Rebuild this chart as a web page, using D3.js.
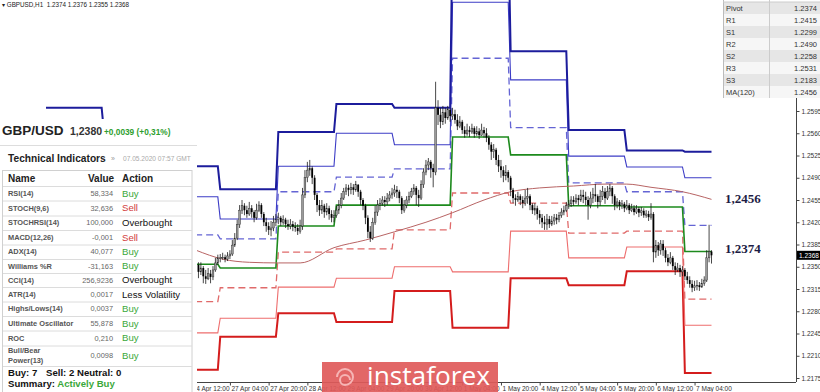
<!DOCTYPE html>
<html><head><meta charset="utf-8">
<script src="https://cdn.jsdelivr.net/npm/d3@7"></script>
<style>
body{margin:0;background:#fff;}
svg{display:block;font-family:"Liberation Sans",Arial,sans-serif;}
</style>
</head><body>
<svg id="c" width="820" height="392"></svg>
<script>
// ---------------- DATA ----------------
const chartHeader = "GBPUSD,H1  1.2374 1.2376 1.2355 1.2368";
// daily pivot levels, one value per trading day (22 Apr ... 7 May)
const dayNames = ["22 Apr","23 Apr","24 Apr","27 Apr","28 Apr","29 Apr","30 Apr","1 May","4 May","5 May","6 May","7 May"];
const levelR3 = [1.2600,1.2560,1.2508,1.2472,1.2562,1.2606,1.2600,1.2890,1.2689,1.2565,1.2533,1.2531];
const levelR2 = [null,null,1.2460,1.2425,1.2508,1.2560,1.2542,1.2766,1.2644,1.2524,1.2507,1.2490];
const levelR1 = [null,null,1.2400,1.2394,1.2468,1.2491,1.2504,1.2678,1.2569,1.2482,1.2468,1.2415];
const levelP  = [null,null,1.2354,1.2348,1.2414,1.2447,1.2447,1.2554,1.2526,1.2446,1.2444,1.2374];
const levelS1 = [null,null,1.2295,1.2317,1.2373,1.2378,1.2408,1.2466,1.2450,1.2403,1.2406,1.2299];
const levelS2 = [null,null,1.2246,1.2269,1.2318,1.2332,1.2350,1.2342,1.2406,1.2364,1.2381,1.2258];
const levelS3 = [null,null,1.2188,1.2240,1.2277,1.2263,1.2312,1.2254,1.2332,1.2321,1.2343,1.2183];

// H1 candles, hour index counted in trading hours from 22 Apr 00:00
const firstHour = 62;
const firstOpen = 1.2357;
const closes = [
 1.2353,1.2342,1.2348,1.2335,1.2331,1.2339,1.2334,1.2345,1.2356,1.2364,
 1.2364,1.2365,1.2362,1.2367,1.2370,1.2384,1.2395,1.2416,1.2439,1.2446,1.2439,1.2433,1.2442,1.2436,1.2427,1.2439,1.2447,1.2433,1.2420,1.2414,1.2408,1.2411,1.2420,1.2424,
 1.2427,1.2420,1.2424,1.2417,1.2414,1.2417,1.2413,1.2411,1.2406,1.2414,1.2463,1.2490,1.2502,1.2505,1.2490,1.2463,1.2447,1.2439,1.2446,1.2436,1.2442,1.2433,1.2427,1.2431,
 1.2439,1.2447,1.2458,1.2468,1.2474,1.2471,1.2475,1.2471,1.2479,1.2468,1.2455,1.2446,1.2427,1.2405,1.2395,1.2420,1.2436,1.2447,1.2450,1.2455,1.2452,1.2458,1.2463,1.2466,
 1.2471,1.2468,1.2458,1.2439,1.2447,1.2455,1.2461,1.2468,1.2474,1.2463,1.2458,1.2479,1.2499,1.2510,1.2515,1.2505,1.2499,1.2600,1.2589,1.2578,1.2593,1.2584,1.2597,1.2587,
 1.2590,1.2581,1.2571,1.2578,1.2565,1.2559,1.2565,1.2562,1.2568,1.2559,1.2563,1.2557,1.2565,1.2560,1.2553,1.2542,1.2531,1.2534,1.2518,1.2508,1.2502,1.2493,1.2499,1.2490,
 1.2471,1.2458,1.2455,1.2461,1.2455,1.2450,1.2458,1.2461,1.2447,1.2439,1.2442,1.2433,1.2427,1.2420,1.2417,1.2425,1.2417,1.2422,1.2427,1.2424,1.2431,1.2436,1.2439,1.2446,
 1.2449,1.2455,1.2452,1.2458,1.2455,1.2463,1.2460,1.2455,1.2447,1.2458,1.2464,1.2461,1.2452,1.2461,1.2468,1.2458,1.2468,1.2474,1.2461,1.2447,1.2452,1.2446,1.2449,1.2442,
 1.2447,1.2439,1.2442,1.2436,1.2441,1.2435,1.2438,1.2431,1.2433,1.2428,1.2433,1.2373,1.2384,1.2376,1.2386,1.2376,1.2364,1.2357,1.2364,1.2351,1.2345,1.2348,1.2342,1.2345,
 1.2335,1.2329,1.2323,1.2317,1.2320,1.2321,1.2318,1.2324,1.2329,1.2364,1.2374,1.2368];
const highs = [
 1.2364,1.2357,1.2357,1.2351,1.2345,1.2348,1.2345,1.2351,1.2364,1.2369,
 1.2370,1.2372,1.2369,1.2373,1.2376,1.2392,1.2403,1.2424,1.2447,1.2455,1.2450,1.2446,1.2452,1.2447,1.2439,1.2449,1.2453,1.2450,1.2436,1.2427,1.2420,1.2422,1.2430,1.2433,
 1.2435,1.2430,1.2431,1.2427,1.2424,1.2425,1.2422,1.2420,1.2417,1.2424,1.2474,1.2502,1.2515,1.2518,1.2508,1.2494,1.2466,1.2455,1.2455,1.2449,1.2450,1.2446,1.2439,1.2439,
 1.2446,1.2455,1.2466,1.2474,1.2480,1.2479,1.2482,1.2480,1.2485,1.2480,1.2471,1.2458,1.2449,1.2431,1.2414,1.2427,1.2446,1.2455,1.2458,1.2461,1.2461,1.2466,1.2469,1.2474,
 1.2479,1.2477,1.2471,1.2461,1.2455,1.2461,1.2468,1.2474,1.2480,1.2477,1.2471,1.2486,1.2505,1.2518,1.2521,1.2518,1.2512,1.2641,1.2612,1.2600,1.2603,1.2600,1.2603,1.2600,
 1.2600,1.2597,1.2590,1.2587,1.2581,1.2571,1.2575,1.2571,1.2575,1.2571,1.2571,1.2568,1.2575,1.2570,1.2568,1.2557,1.2546,1.2543,1.2537,1.2526,1.2518,1.2508,1.2510,1.2502,
 1.2493,1.2474,1.2464,1.2468,1.2464,1.2461,1.2471,1.2474,1.2464,1.2450,1.2450,1.2446,1.2439,1.2433,1.2430,1.2433,1.2430,1.2430,1.2433,1.2433,1.2436,1.2442,1.2446,1.2452,
 1.2455,1.2461,1.2461,1.2464,1.2463,1.2471,1.2471,1.2468,1.2461,1.2468,1.2474,1.2480,1.2464,1.2471,1.2477,1.2474,1.2477,1.2480,1.2477,1.2464,1.2458,1.2455,1.2455,1.2452,
 1.2455,1.2450,1.2449,1.2447,1.2447,1.2444,1.2444,1.2442,1.2439,1.2438,1.2450,1.2436,1.2392,1.2389,1.2392,1.2392,1.2380,1.2370,1.2373,1.2367,1.2357,1.2356,1.2353,1.2351,
 1.2348,1.2342,1.2335,1.2329,1.2328,1.2329,1.2326,1.2331,1.2335,1.2376,1.2416,1.2376];
const lows = [
 1.2345,1.2332,1.2337,1.2324,1.2323,1.2329,1.2324,1.2329,1.2342,1.2353,
 1.2357,1.2361,1.2357,1.2359,1.2362,1.2367,1.2381,1.2392,1.2411,1.2433,1.2431,1.2427,1.2430,1.2427,1.2420,1.2424,1.2436,1.2427,1.2414,1.2405,1.2400,1.2398,1.2406,1.2414,
 1.2417,1.2414,1.2416,1.2411,1.2408,1.2409,1.2406,1.2405,1.2400,1.2402,1.2408,1.2458,1.2483,1.2493,1.2480,1.2455,1.2436,1.2430,1.2433,1.2427,1.2431,1.2424,1.2420,1.2420,
 1.2427,1.2433,1.2442,1.2455,1.2463,1.2461,1.2464,1.2463,1.2468,1.2460,1.2447,1.2439,1.2417,1.2395,1.2389,1.2392,1.2416,1.2430,1.2439,1.2446,1.2444,1.2447,1.2453,1.2457,
 1.2460,1.2458,1.2450,1.2433,1.2435,1.2442,1.2450,1.2458,1.2463,1.2447,1.2444,1.2455,1.2474,1.2494,1.2502,1.2490,1.2475,1.2494,1.2573,1.2568,1.2573,1.2575,1.2581,1.2578,
 1.2581,1.2575,1.2565,1.2568,1.2559,1.2553,1.2556,1.2554,1.2559,1.2553,1.2556,1.2551,1.2556,1.2553,1.2546,1.2534,1.2518,1.2521,1.2510,1.2499,1.2490,1.2483,1.2486,1.2483,
 1.2461,1.2450,1.2446,1.2452,1.2447,1.2442,1.2446,1.2449,1.2439,1.2433,1.2431,1.2424,1.2417,1.2411,1.2408,1.2408,1.2411,1.2414,1.2416,1.2417,1.2420,1.2427,1.2431,1.2436,
 1.2441,1.2444,1.2446,1.2449,1.2447,1.2452,1.2450,1.2447,1.2424,1.2442,1.2450,1.2452,1.2442,1.2446,1.2455,1.2449,1.2455,1.2461,1.2449,1.2439,1.2442,1.2439,1.2441,1.2436,
 1.2439,1.2433,1.2436,1.2431,1.2433,1.2428,1.2430,1.2427,1.2427,1.2422,1.2424,1.2357,1.2364,1.2367,1.2369,1.2367,1.2357,1.2351,1.2354,1.2345,1.2337,1.2342,1.2334,1.2335,
 1.2329,1.2323,1.2317,1.2310,1.2312,1.2313,1.2312,1.2317,1.2320,1.2326,1.2357,1.2355];

// MA(120) read at sample hours
const maHours  = [62,73,84,96,105,119,132,144,157,168,181,192,204,218,231,240,250,263,275];
const maValues = [1.2376,1.2362,1.2357,1.2356,1.2356,1.2380,1.2392,1.2405,1.2420,1.2435,1.2455,1.2468,1.2474,1.2477,1.2480,1.2480,1.2475,1.2468,1.2456];

const timeTickHours  = [60,76,92,108,124,140,156,172,188,204,220,236,252,268];
const timeTickLabels = ["24 Apr 12:00","27 Apr 04:00","27 Apr 20:00","28 Apr 12:00","29 Apr 04:00","29 Apr 20:00","30 Apr 12:00","1 May 04:00","1 May 20:00","4 May 12:00","5 May 04:00","5 May 20:00","6 May 12:00","7 May 04:00"];
const priceTicks = [1.2175,1.2210,1.2245,1.2280,1.2315,1.2350,1.2385,1.2420,1.2455,1.2490,1.2525,1.2560,1.2595];
const lastPrice = 1.2368;
const maLast = 1.2456;
const pivotLast = 1.2374;

const pivotTableNames  = ["Pivot","R1","S1","R2","S2","R3","S3","MA(120)"];
const pivotTableValues = ["1.2374","1.2415","1.2299","1.2490","1.2258","1.2531","1.2183","1.2456"];

const indNames   = ["RSI(14)","STOCH(9,6)","STOCHRSI(14)","MACD(12,26)","ADX(14)","Williams %R","CCI(14)","ATR(14)","Highs/Lows(14)","Ultimate Oscillator","ROC","Bull/Bear|Power(13)"];
const indValues  = ["58,334","32,636","100,000","-0,001","40,077","-31,163","256,9236","0,0017","0,0037","55,878","0,210","0,0098"];
const indActions = ["Buy","Sell","Overbought","Sell","Buy","Buy","Overbought","Less Volatility","Buy","Buy","Buy","Buy"];

// ---------------- DRAW ----------------
const svg = d3.select("#c");
const W = 820, H = 392, axisX = 796, axisY = 382;
const x = d3.scaleLinear().domain([0, 275]).range([46, 46 + 275 * 2.42]);
const y = d3.scaleLinear().domain([1.2175, 1.2455]).range([378, 200]);

svg.append("rect").attr("width", W).attr("height", H).attr("fill", "#fff");
svg.append("defs").append("clipPath").attr("id", "clip")
  .append("rect").attr("x", 0).attr("y", 0).attr("width", axisX).attr("height", axisY);
const plot = svg.append("g").attr("clip-path", "url(#clip)");

// pivot step lines
const lastHour = firstHour + closes.length - 1;
function stepPts(arr) {
  const pts = [];
  arr.forEach((v, d) => {
    const s = d * 24, e = Math.min(d * 24 + 23, lastHour);
    pts.push([s, v], [e, v]);
  });
  return pts;
}
const lineGen = d3.line().defined(p => p[1] != null).x(p => x(p[0])).y(p => y(p[1]));
const levels = [
  {d: levelS3, c: "#d41c1c", w: 2},
  {d: levelS2, c: "#ee6e6e", w: 1.1},
  {d: levelS1, c: "#e06a6a", w: 1.3, dash: "7,4"},
  {d: levelR1, c: "#6464d4", w: 1.3, dash: "7,4"},
  {d: levelR2, c: "#3c3cc6", w: 1.1},
  {d: levelR3, c: "#1c1c9c", w: 2},
  {d: levelP,  c: "#1d8a1d", w: 1.6}
];
levels.forEach(l => {
  plot.append("path").attr("d", lineGen(stepPts(l.d)))
    .attr("fill", "none").attr("stroke", l.c).attr("stroke-width", l.w)
    .attr("stroke-dasharray", l.dash || null);
});

// MA(120)
plot.append("path")
  .attr("d", d3.line().curve(d3.curveMonotoneX).x((h, i) => x(h)).y((h, i) => y(maValues[i]))(maHours))
  .attr("fill", "none").attr("stroke", "#b86464").attr("stroke-width", 1);

// candles
const n = Math.min(closes.length, highs.length, lows.length);
const cg = plot.append("g");
for (let i = 0; i < n; i++) {
  const o = i === 0 ? firstOpen : closes[i - 1];
  const c = closes[i];
  const hi = Math.max(highs[i], o, c), lo = Math.min(lows[i], o, c);
  const cx = x(firstHour + i);
  cg.append("line").attr("x1", cx).attr("x2", cx).attr("y1", y(hi)).attr("y2", y(lo))
    .attr("stroke", "#1a1a1a").attr("stroke-width", 0.8);
  const top = y(Math.max(o, c)), bot = y(Math.min(o, c));
  cg.append("rect").attr("x", cx - 0.9).attr("width", 1.8)
    .attr("y", top).attr("height", Math.max(0.8, bot - top))
    .attr("fill", c >= o ? "#9a9a9a" : "#000")
    .attr("stroke", c >= o ? "#222" : "none").attr("stroke-width", 0.4);
}

// axes
svg.append("line").attr("x1", axisX + 0.5).attr("x2", axisX + 0.5).attr("y1", 0).attr("y2", axisY)
  .attr("stroke", "#444").attr("stroke-width", 1);
svg.append("line").attr("x1", 0).attr("x2", axisX).attr("y1", axisY + 0.5).attr("y2", axisY + 0.5)
  .attr("stroke", "#444").attr("stroke-width", 1);

const ya = svg.append("g").attr("transform", `translate(${axisX + 0.5},0)`)
  .call(d3.axisRight(y).tickValues(priceTicks).tickSize(3).tickPadding(2).tickFormat(d3.format(".4f")));
ya.select(".domain").remove();
ya.selectAll("text").attr("font-size", 6.5).attr("fill", "#333").attr("font-family", "Liberation Sans, Arial");
ya.selectAll("line").attr("stroke", "#444");

const xa = svg.append("g").attr("transform", `translate(0,${axisY + 0.5})`)
  .call(d3.axisBottom(x).tickValues(timeTickHours).tickSize(3).tickPadding(1).tickFormat((d, i) => timeTickLabels[i]));
xa.select(".domain").remove();
xa.selectAll("text").attr("font-size", 6.5).attr("fill", "#333").attr("text-anchor", "start")
  .attr("dx", 1).attr("font-family", "Liberation Sans, Arial");
xa.selectAll("line").attr("stroke", "#444");

// current price box
const yp = y(lastPrice);
svg.append("rect").attr("x", axisX + 1).attr("y", yp - 4.5).attr("width", 23).attr("height", 9).attr("fill", "#000");
svg.append("text").attr("x", axisX + 3).attr("y", yp + 2.4).attr("font-size", 6.5).attr("fill", "#fff").text(d3.format(".4f")(lastPrice));

// big level labels
const fmtC = v => d3.format(".4f")(v).replace(".", ",");
[[maLast, 0], [pivotLast, 2]].forEach(([v, dy]) => {
  svg.append("text").attr("x", 725).attr("y", y(v) + 4 - dy)
    .attr("font-family", "Liberation Serif, Times New Roman, serif").attr("font-weight", "bold")
    .attr("font-size", 13).attr("fill", "#1c1c44").text(fmtC(v));
});

// header text
svg.append("text").attr("x", 2).attr("y", 7).attr("font-size", 6.3).attr("fill", "#222")
  .style("white-space", "pre").text("\u25BE " + chartHeader);

// watermark
const wm = svg.append("g");
wm.append("rect").attr("x", 322).attr("y", 362).attr("width", 176).attr("height", 30).attr("fill", "#e05a5a").attr("opacity", 0.92);
wm.append("path").attr("d", "M345,377 m-8,0 a8,8 0 1,1 8,8 a5,5 0 1,1 5,-5")
  .attr("fill", "none").attr("stroke", "#f6b5b5").attr("stroke-width", 2);
wm.append("text").attr("x", 367).attr("y", 385).attr("font-size", 25).attr("fill", "#fff")
  .attr("font-family", "Open Sans, Liberation Sans, sans-serif")
  .attr("textLength", 123).attr("lengthAdjust", "spacingAndGlyphs").text("instaforex");

// pivot table (top right)
const pt = svg.append("g");
pt.append("rect").attr("x", 722).attr("y", 0).attr("width", 98).attr("height", 98).attr("fill", "#fff");
pivotTableNames.forEach((nm, k) => {
  const ty = 2 + k * 12;
  pt.append("rect").attr("x", 723).attr("y", ty).attr("width", 97).attr("height", 12)
    .attr("fill", k % 2 === 0 ? "#e6e6e6" : "#f6f6f6");
  pt.append("text").attr("x", 726).attr("y", ty + 9).attr("font-size", 7.5).attr("fill", "#333").text(nm);
  pt.append("text").attr("x", 817).attr("y", ty + 9).attr("font-size", 7.5).attr("fill", "#333")
    .attr("text-anchor", "end").text(pivotTableValues[k]);
});
pt.append("line").attr("x1", 723.5).attr("x2", 723.5).attr("y1", 0).attr("y2", 98).attr("stroke", "#bbb");
pt.append("line").attr("x1", 769.5).attr("x2", 769.5).attr("y1", 0).attr("y2", 98).attr("stroke", "#ccc");
pt.append("line").attr("x1", 723).attr("x2", 820).attr("y1", 2).attr("y2", 2).attr("stroke", "#ccc");

// left technical-indicator panel
const lp = svg.append("g");
lp.append("rect").attr("x", 0).attr("y", 119).attr("width", 197).attr("height", H - 119).attr("fill", "#fff");
lp.append("text").attr("x", 2).attr("y", 135).attr("font-size", 13.5).attr("font-weight", "bold").attr("fill", "#222").text("GBP/USD");
lp.append("text").attr("x", 70).attr("y", 135).attr("font-size", 10.5).attr("font-weight", "bold").attr("fill", "#333").text("1,2380");
lp.append("text").attr("x", 104).attr("y", 135).attr("font-size", 8.3).attr("font-weight", "bold").attr("fill", "#2e9e2e").text("+0,0039 (+0,31%)");
lp.append("line").attr("x1", 0).attr("x2", 197).attr("y1", 145.5).attr("y2", 145.5).attr("stroke", "#ddd");
lp.append("text").attr("x", 8).attr("y", 162).attr("font-size", 10.2).attr("font-weight", "bold").attr("fill", "#222").text("Technical Indicators");
lp.append("text").attr("x", 111).attr("y", 161).attr("font-size", 7).attr("fill", "#999").text("\u00BB");
lp.append("text").attr("x", 123).attr("y", 161).attr("font-size", 6.6).attr("fill", "#aaa").text("07.05.2020 07:57 GMT");

lp.append("rect").attr("x", 2.5).attr("y", 170.5).attr("width", 189.5).attr("height", 230).attr("fill", "none").attr("stroke", "#d0d0d0");
lp.append("text").attr("x", 8).attr("y", 182).attr("font-size", 10).attr("font-weight", "bold").attr("fill", "#222").text("Name");
lp.append("text").attr("x", 88).attr("y", 182).attr("font-size", 10).attr("font-weight", "bold").attr("fill", "#222").text("Value");
lp.append("text").attr("x", 122).attr("y", 182).attr("font-size", 10).attr("font-weight", "bold").attr("fill", "#222").text("Action");

const rowSep = [186, 200.5, 215.5, 230, 244.5, 259, 273, 287, 301.5, 316, 330.5, 345.5, 366];
rowSep.forEach(s => lp.append("line").attr("x1", 3).attr("x2", 192).attr("y1", s + 0.5).attr("y2", s + 0.5).attr("stroke", "#dcdcdc"));
const actColor = a => a === "Buy" ? "#3aa83a" : a === "Sell" ? "#d23a3a" : "#111";
indNames.forEach((nm, k) => {
  const top = rowSep[k], bot = rowSep[k + 1], cy = (top + bot) / 2;
  const parts = nm.split("|");
  parts.forEach((p, j) => {
    lp.append("text").attr("x", 8).attr("y", cy + 2.6 + (j - (parts.length - 1) / 2) * 10)
      .attr("font-size", 7.4).attr("font-weight", "bold").attr("fill", "#555").text(p);
  });
  lp.append("text").attr("x", 113).attr("y", cy + 2.6).attr("text-anchor", "end")
    .attr("font-size", 7.4).attr("fill", "#666").text(indValues[k]);
  lp.append("text").attr("x", 122).attr("y", cy + 3.4).attr("font-size", 9.6)
    .attr("fill", actColor(indActions[k])).text(indActions[k]);
});
const buyN = indActions.filter(a => a === "Buy").length;
const sellN = indActions.filter(a => a === "Sell").length;
const bs = lp.append("text").attr("y", 376).attr("font-size", 9.6).attr("font-weight", "bold").attr("fill", "#111");
bs.append("tspan").attr("x", 8).text(`Buy: ${buyN}`);
bs.append("tspan").attr("x", 46).text(`Sell: ${sellN}`);
bs.append("tspan").attr("x", 77).text("Neutral: 0");
const sm = lp.append("text").attr("x", 8).attr("y", 387).attr("font-size", 9.6).attr("font-weight", "bold");
sm.append("tspan").attr("fill", "#111").text("Summary: ");
sm.append("tspan").attr("fill", "#3aa83a").text("Actively Buy");
</script>
</body></html>
